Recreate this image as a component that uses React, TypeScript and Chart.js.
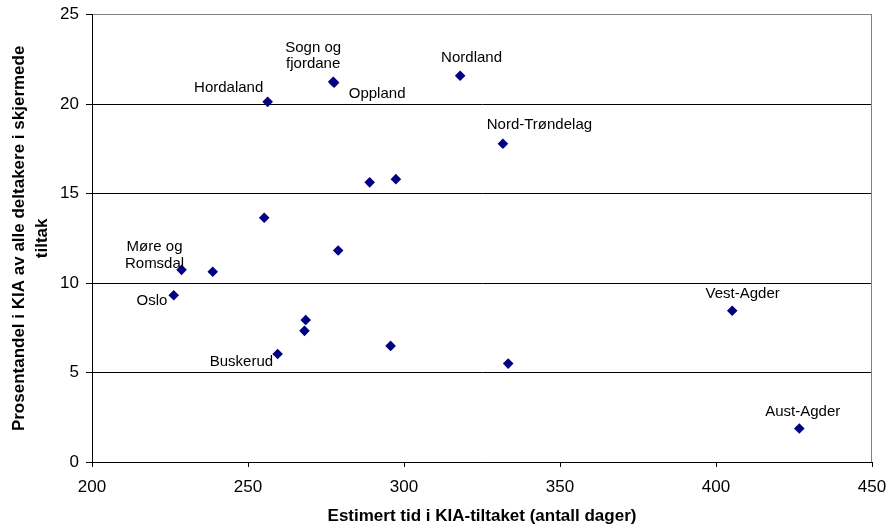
import React, { useEffect, useRef } from 'react';
import { Chart, registerables } from 'chart.js';

Chart.register(...registerables);

// ---- Data ----
const countyLabels = [
  'Hordaland', 'Sogn og fjordane', 'Oppland', 'Nordland', 'Nord-Trøndelag',
  'Møre og Romsdal', 'Oslo', 'Buskerud', 'Vest-Agder', 'Aust-Agder',
  '', '', '', '', '', '', '', '', '',
];
const estimatedDays = [
  256.3, 277.3, 277.6, 318.0, 331.7,
  228.7, 226.2, 259.5, 405.2, 426.7,
  255.2, 238.7, 289.0, 297.4, 278.9, 268.5, 268.1, 295.7, 333.4,
];
const percentShare = [
  20.13, 21.25, 21.2, 21.59, 17.79,
  10.74, 9.32, 6.04, 8.45, 1.87,
  13.65, 10.63, 15.63, 15.81, 11.82, 7.94, 7.33, 6.49, 5.5,
];
const xTitle = 'Estimert tid i KIA-tiltaket (antall dager)';
const yTitleLines = ['Prosentandel i KIA av alle deltakere i skjermede', 'tiltak'];

// ---- Label placement (style: pixel offsets of text centre / baselines from the marker) ----
const labelOffsets: Record<string, { dx: number; dys: number[]; lines: string[] }> = {
  'Hordaland': { dx: -39, dys: [-10], lines: ['Hordaland'] },
  'Sogn og fjordane': { dx: -20, dys: [-30, -13.5], lines: ['Sogn og', 'fjordane'] },
  'Oppland': { dx: 43, dys: [15], lines: ['Oppland'] },
  'Nordland': { dx: 11.4, dys: [-14], lines: ['Nordland'] },
  'Nord-Trøndelag': { dx: 36.5, dys: [-14.4], lines: ['Nord-Trøndelag'] },
  'Møre og Romsdal': { dx: -27, dys: [-19, -1.4], lines: ['Møre og', 'Romsdal'] },
  'Oslo': { dx: -21.7, dys: [10], lines: ['Oslo'] },
  'Buskerud': { dx: -36.2, dys: [12], lines: ['Buskerud'] },
  'Vest-Agder': { dx: 10.4, dys: [-12.4], lines: ['Vest-Agder'] },
  'Aust-Agder': { dx: 3.4, dys: [-12.3], lines: ['Aust-Agder'] },
};

const FONT = "'Liberation Sans', Arial, Helvetica, sans-serif";

const labelPlugin = {
  id: 'pointLabels',
  afterDatasetsDraw(chart: any) {
    const { ctx, chartArea } = chart;
    // plot area right border (grey)
    ctx.save();
    ctx.strokeStyle = '#808080';
    ctx.lineWidth = 1;
    ctx.beginPath();
    ctx.moveTo(Math.round(chartArea.right) - 0.5, chartArea.top);
    ctx.lineTo(Math.round(chartArea.right) - 0.5, chartArea.bottom);
    ctx.stroke();

    const meta = chart.getDatasetMeta(0);
    ctx.font = `15px ${FONT}`;
    ctx.fillStyle = '#000';
    ctx.textAlign = 'center';
    ctx.textBaseline = 'alphabetic';
    meta.data.forEach((el: any, i: number) => {
      const name = countyLabels[i];
      if (!name) return;
      const o = labelOffsets[name];
      if (!o) return;
      o.lines.forEach((line, j) => {
        ctx.fillText(line, el.x + o.dx, el.y + o.dys[j]);
      });
    });
    ctx.restore();
  },
};

export default function App() {
  const canvasRef = useRef<HTMLCanvasElement | null>(null);

  useEffect(() => {
    if (!canvasRef.current) return;
    Chart.defaults.font.family = FONT;
    const points = estimatedDays.map((x, i) => ({ x, y: percentShare[i] }));
    const chart = new Chart(canvasRef.current, {
      type: 'scatter',
      data: {
        datasets: [
          {
            data: points,
            pointStyle: 'rectRot',
            pointRadius: 5.3,
            pointBorderWidth: 0,
            backgroundColor: '#000080',
            borderColor: '#000080',
          },
        ],
      },
      options: {
        animation: false,
        responsive: true,
        maintainAspectRatio: false,
        events: [],
        layout: { padding: { top: 14.7, right: 15, left: 0, bottom: 0 } },
        plugins: {
          legend: { display: false },
          tooltip: { enabled: false },
        },
        scales: {
          x: {
            type: 'linear',
            min: 200,
            max: 450,
            afterFit: (scale: any) => { scale.height = 65; },
            ticks: {
              stepSize: 50,
              color: '#000',
              font: { size: 17, family: FONT, lineHeight: 2.4 },
              padding: 0,
              maxRotation: 0,
            },
            grid: {
              drawOnChartArea: false,
              drawTicks: true,
              tickLength: 5,
              color: '#000',
              tickColor: '#000',
            },
            border: { color: '#000', width: 1 },
            title: {
              display: true,
              text: xTitle,
              color: '#000',
              font: { size: 17, weight: 'bold', family: FONT, lineHeight: 1.2 },
              padding: { top: 0, bottom: 0 },
            },
          },
          y: {
            type: 'linear',
            min: 0,
            max: 25,
            afterFit: (scale: any) => { scale.width = 92; },
            ticks: {
              stepSize: 5,
              color: '#000',
              font: { size: 17, family: FONT, lineHeight: 0.8 },
              padding: 7,
            },
            grid: {
              drawTicks: true,
              tickLength: 6,
              color: (c: any) => (c.tick && c.tick.value === 25 ? '#808080' : '#000'),
              tickColor: '#000',
            },
            border: { color: '#000', width: 1 },
            title: {
              display: true,
              text: yTitleLines,
              color: '#000',
              font: { size: 17, weight: 'bold', family: FONT, lineHeight: 1.35 },
              padding: { top: 8, bottom: 0 },
            },
          },
        },
      },
      plugins: [labelPlugin],
    });
    return () => chart.destroy();
  }, []);

  return (
    <div style={{ position: 'absolute', left: 0, top: 0, width: 887, height: 527, background: '#fff' }}>
      <canvas ref={canvasRef} />
    </div>
  );
}
